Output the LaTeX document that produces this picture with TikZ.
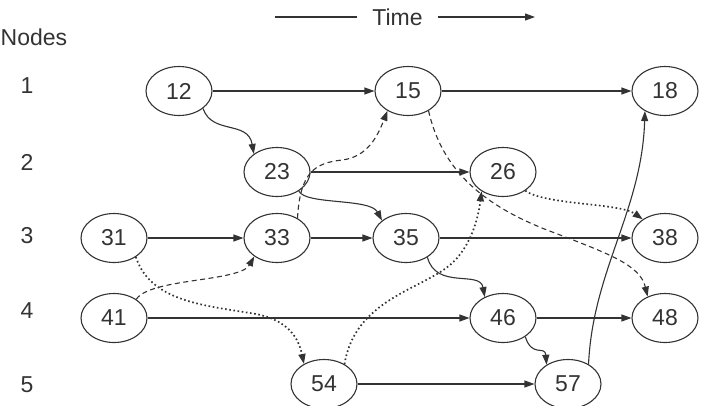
\documentclass[tikz,border=0pt]{standalone}
\usepackage{fontspec}
\setmainfont{Liberation Sans}
\usetikzlibrary{shapes.geometric,arrows.meta}
\definecolor{ink}{HTML}{333333}
\begin{document}
\begin{tikzpicture}[x=1pt,y=-1pt,
  every node/.style={font=\fontsize{23}{26}\selectfont, text=ink},
  ev/.style={ellipse, draw=ink, line width=1.1pt, minimum width=66pt, minimum height=49pt, inner sep=0pt},
  lab/.style={inner sep=0pt},
  arr/.style={draw=ink, line width=1.1pt, -{Triangle[length=10pt,width=7pt]}},
  dsh/.style={arr, dash pattern=on 5pt off 3.5pt},
  dotl/.style={arr, line width=1.7pt, dash pattern=on 1.6pt off 2.6pt},
]
\useasboundingbox (0,0) rectangle (704,405);

% header
\node[lab, anchor=west] (hdr) at (0.5,37) {Nodes};
\node[lab] (time) at (397.5,17) {Time};
\coordinate (t0) at (275,17);
\coordinate (t1) at (357,17);
\coordinate (t2) at (438,17);
\coordinate (t3) at (535,17);
\draw[draw=ink, line width=1.1pt] (t0) -- (t1);
\draw[arr] (t2) -- (t3);

% row labels
\node[lab] (r1) at (27,86) {1};
\node[lab] (r2) at (27,162) {2};
\node[lab] (r3) at (27,236) {3};
\node[lab] (r4) at (27,311) {4};
\node[lab] (r5) at (27,385) {5};

% events
\node[ev] (n12) at (179,91) {12};
\node[ev] (n15) at (408,91) {15};
\node[ev] (n18) at (665,91) {18};
\node[ev] (n23) at (277,172) {23};
\node[ev] (n26) at (503,172) {26};
\node[ev] (n31) at (114,238) {31};
\node[ev] (n33) at (277,238) {33};
\node[ev] (n35) at (406,238) {35};
\node[ev] (n38) at (665,238) {38};
\node[ev] (n41) at (114,318) {41};
\node[ev] (n46) at (503,318) {46};
\node[ev] (n48) at (665,318) {48};
\node[ev] (n54) at (324,384) {54};
\node[ev] (n57) at (568,384) {57};

% solid straight
\draw[arr] (n12) -- (n15);
\draw[arr] (n15) -- (n18);
\draw[arr] (n23) -- (n26);
\draw[arr] (n31) -- (n33);
\draw[arr] (n33) -- (n35);
\draw[arr] (n35) -- (n38);
\draw[arr] (n41) -- (n46);
\draw[arr] (n46) -- (n48);
\draw[arr] (n54) -- (n57);

% solid curved
\draw[arr] (n12.-36) .. controls (212,135) and (248,120) .. (n23.142);
\draw[arr] (n23.-41) .. controls (305,205) and (370,198) .. (n35.144);
\draw[arr] (n35.-42) .. controls (436,290) and (480,270) .. (n46.131);
\draw[arr] (n46.-40) .. controls (532,358) and (545,345) .. (n57.138);
\draw[arr] (n57.44) .. controls (593,270) and (642,210) .. (n18.-135);

% dashed
\draw[dsh] (n33.44) .. controls (300,172) and (315,163) .. (342,160)
                    .. controls (368,157) and (378,135) .. (n15.-136);
\draw[dsh] (n15.-44) .. controls (440,160) and (470,200) .. (547,230)
                     .. controls (610,254) and (640,265) .. (n48.129);
\draw[dsh] (n41.40) .. controls (150,278) and (240,282) .. (n33.-141);

% dotted
\draw[dotl] (n26.-40) .. controls (545,205) and (620,203) .. (n38.140);
\draw[dotl] (n31.-41) .. controls (150,300) and (200,305) .. (250,313)
                      .. controls (285,318) and (298,335) .. (n54.135);
\draw[dotl] (n54.44) .. controls (355,300) and (420,290) .. (450,265)
                     .. controls (470,248) and (478,220) .. (n26.-138);
\end{tikzpicture}
\end{document}
